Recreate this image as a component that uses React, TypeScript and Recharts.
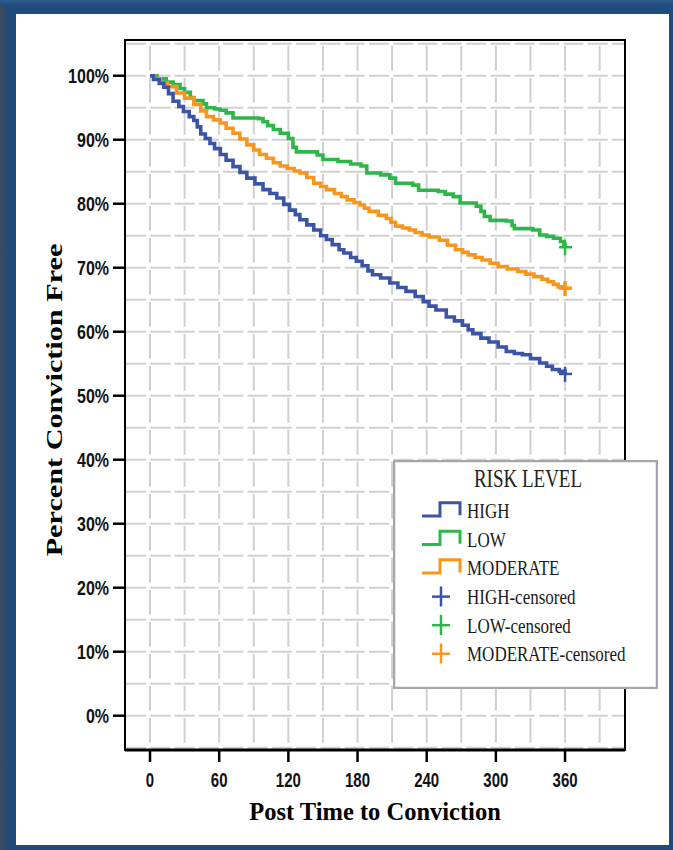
import React from 'react';
import {
  ComposedChart, Line, Scatter, XAxis, YAxis, CartesianGrid, ReferenceArea,
} from 'recharts';

// Kaplan-Meier style step data: [days, percent conviction free]
const highDays = [0, 3, 8, 12, 16, 20, 25, 29, 34, 38, 41, 44, 48, 52, 56, 61, 66, 72, 78, 84, 91, 98, 104, 110, 116, 121, 126, 130, 136, 142, 148, 153, 158, 164, 168, 174, 179, 184, 189, 193, 200, 208, 215, 222, 230, 237, 242, 248, 257, 264, 271, 276, 280, 287, 294, 302, 309, 316, 323, 330, 338, 344, 349, 355, 360];
const highPct = [100, 99.4, 98.8, 98.2, 97.2, 96, 95.2, 94.4, 93.6, 93, 92, 90.9, 90.2, 89.4, 88.6, 87.7, 86.8, 85.8, 84.9, 84, 83.1, 82.2, 81.6, 80.9, 79.9, 79, 78.3, 77.5, 76.7, 75.9, 75, 74.4, 73.6, 72.8, 72.3, 71.6, 71, 70.3, 69.5, 68.9, 68.4, 67.6, 66.9, 66.3, 65.5, 64.7, 64, 63.4, 62.3, 61.7, 61, 60.3, 59.7, 59, 58.4, 57.6, 56.9, 56.6, 56.4, 55.8, 55.1, 54.6, 54.1, 53.8, 53.4];

const lowDays = [0, 6, 14, 20, 26, 30, 35, 38, 46, 49, 56, 61, 66, 72, 94, 98, 102, 107, 113, 120, 124, 127, 145, 150, 163, 174, 183, 188, 200, 208, 213, 228, 233, 250, 256, 263, 269, 283, 287, 290, 295, 309, 314, 316, 332, 338, 344, 350, 356, 359, 360];
const lowPct = [100, 99.5, 99, 98.6, 98, 97.4, 96.6, 96.1, 95.6, 95, 94.8, 94.6, 94.2, 93.4, 93.3, 92.8, 92.2, 91.6, 91, 90.2, 88.8, 88.1, 87.6, 86.9, 86.6, 86.2, 85.9, 84.8, 84.5, 84, 83.2, 82.9, 82.1, 81.9, 81.5, 81.1, 80.1, 79.6, 78.8, 78, 77.4, 77.3, 76.6, 76.1, 75.9, 75.1, 74.9, 74.6, 74.1, 73.6, 73.2];

const modDays = [0, 4, 9, 15, 23, 30, 38, 44, 49, 55, 61, 66, 72, 78, 84, 90, 95, 101, 107, 113, 119, 125, 130, 136, 142, 148, 153, 160, 166, 171, 177, 182, 186, 190, 198, 205, 209, 213, 219, 225, 230, 236, 242, 251, 258, 265, 271, 276, 282, 288, 295, 302, 310, 319, 326, 333, 340, 345, 350, 354, 360];
const modPct = [100, 99.5, 98.9, 98.3, 97.3, 96.5, 95.5, 94.5, 93.6, 93.1, 92.6, 91.8, 91, 90.1, 89.2, 88.4, 87.7, 87.1, 86.4, 85.9, 85.5, 85.1, 84.8, 84.1, 83.2, 82.7, 82.2, 81.6, 81.1, 80.6, 80.2, 79.8, 79.3, 78.8, 78.2, 77.7, 77.1, 76.5, 76.2, 75.9, 75.5, 75.1, 74.8, 74.3, 73.5, 72.8, 72.4, 72, 71.6, 71.2, 70.7, 70.2, 69.8, 69.4, 69, 68.6, 68.2, 67.8, 67.4, 67, 66.8];

// censored marks at end of follow-up
const censorDay = 360;
const highCensored = [53.4];
const lowCensored = [73.2];
const modCensored = [66.8];

const xGridTicks = [0, 30, 60, 90, 120, 150, 180, 210, 240, 270, 300, 330, 360, 390];
const xLabelTicks = [0, 60, 120, 180, 240, 300, 360];
const yGridTicks = [-5, 0, 5, 10, 15, 20, 25, 30, 35, 40, 45, 50, 55, 60, 65, 70, 75, 80, 85, 90, 95, 100, 105];
const yLabelTicks = [0, 10, 20, 30, 40, 50, 60, 70, 80, 90, 100];

const legendItems = ['HIGH', 'LOW', 'MODERATE'];

const BLUE = '#3c54a6';
const GREEN = '#2fb64a';
const ORANGE = '#f7961f';
const GRID = '#d0d0d0';

const W = 673;
const H = 850;
const MARGIN = { top: 40, right: 48, bottom: 0, left: 0 };
const Y_AXIS_W = 125;
const X_AXIS_H = 100;
const X_DOMAIN: [number, number] = [-21.7, 412];
const Y_DOMAIN: [number, number] = [-5.36, 105.58];

const plotH = H - MARGIN.top - X_AXIS_H;
const pxPerPct = plotH / (Y_DOMAIN[1] - Y_DOMAIN[0]);

const toRows = (days: number[], pct: number[]) => days.map((t, i) => ({ t, pct: pct[i] }));
const highData = toRows(highDays, highPct);
const lowData = toRows(lowDays, lowPct);
const modData = toRows(modDays, modPct);

// vertical dashes start on each horizontal grid line and stop a little before the next
const vPeriod = 5 * pxPerPct;
const vStart = (Y_DOMAIN[1] - 105) * pxPerPct;
const vOffset = (vPeriod - (vStart % vPeriod)) % vPeriod;

const renderHLine = (p: any) => (
  <line key={`h-${p.index}`} x1={Math.min(p.x1, p.x2)} y1={p.y1} x2={Math.max(p.x1, p.x2)} y2={p.y2}
    stroke={GRID} strokeWidth={2} strokeDasharray="20 4.3" strokeDashoffset={-1} />
);
const renderVLine = (p: any) => (
  <line key={`v-${p.index}`} x1={p.x1} y1={Math.min(p.y1, p.y2)} x2={p.x2} y2={Math.max(p.y1, p.y2)}
    stroke={GRID} strokeWidth={2} strokeDasharray={`${vPeriod - 7} 7`} strokeDashoffset={vOffset - 2} />
);

const tickFont = { fontFamily: '"Liberation Sans", Arial, sans-serif', fontWeight: 700, fill: '#111' };

const YTick = (p: any) => {
  const v = p.payload.value;
  if (!yLabelTicks.includes(v)) return <g />;
  return (
    <g>
      <line x1={p.x - 12} x2={p.x} y1={p.y} y2={p.y} stroke="#000" strokeWidth={2.5} />
      <text transform={`translate(${p.x - 16},${p.y + 7}) scale(1,1.22)`} textAnchor="end" fontSize={16} {...tickFont}>
        {`${v}%`}
      </text>
    </g>
  );
};

const XTick = (p: any) => {
  const v = p.payload.value;
  if (!xLabelTicks.includes(v)) return <g />;
  return (
    <g>
      <line x1={p.x} x2={p.x} y1={p.y} y2={p.y + 12} stroke="#000" strokeWidth={2.5} />
      <text transform={`translate(${p.x},${p.y + 37}) scale(1,1.4)`} textAnchor="middle" fontSize={15} {...tickFont}>
        {v}
      </text>
    </g>
  );
};

const plusShape = (color: string, w: number) => (p: any) => (
  <g>
    <line x1={p.cx - 6} x2={p.cx + 7} y1={p.cy} y2={p.cy} stroke={color} strokeWidth={w} />
    <line x1={p.cx} x2={p.cx} y1={p.cy - 7} y2={p.cy + 8} stroke={color} strokeWidth={w} />
  </g>
);

const serif = '"Liberation Serif", "Times New Roman", serif';

const Legend = () => {
  const colors = [BLUE, GREEN, ORANGE];
  const rowY = (i: number) => 58.3 + i * 28.55;
  return (
    <svg width={265} height={229} style={{ position: 'absolute', left: 393, top: 460 }}>
      <rect x={1} y={1} width={263} height={227} fill="#fff" stroke="#a6a6a6" strokeWidth={2.5} />
      <text transform="translate(135,27) scale(1,1.3)" textAnchor="middle" fontFamily={serif} fontSize={19} fill="#222">
        RISK LEVEL
      </text>
      {legendItems.map((name, i) => {
        const b = rowY(i);
        return (
          <g key={name}>
            <path d={`M29,${b - 2.3} H47 V${b - 15.6} H67 V${b - 3}`} fill="none" stroke={colors[i]} strokeWidth={3} />
            <text transform={`translate(74,${b}) scale(1,1.2)`} fontFamily={serif} fontSize={17} fill="#1a1a1a">{name}</text>
          </g>
        );
      })}
      {legendItems.map((name, i) => {
        const b = rowY(i + 3);
        return (
          <g key={`${name}-c`}>
            <line x1={39} x2={57} y1={b - 7.3} y2={b - 7.3} stroke={colors[i]} strokeWidth={2.5} />
            <line x1={48} x2={48} y1={b - 17.5} y2={b + 2.5} stroke={colors[i]} strokeWidth={2.5} />
            <text transform={`translate(74,${b}) scale(1,1.2)`} fontFamily={serif} fontSize={17} fill="#1a1a1a">{`${name}-censored`}</text>
          </g>
        );
      })}
    </svg>
  );
};

export default function App() {
  return (
    <div style={{ position: 'absolute', left: 0, top: 0, width: W, height: H, background: '#1f4a7d', overflow: 'hidden' }}>
      <div style={{ position: 'absolute', left: 0, top: 0, width: 10, height: H, background: 'linear-gradient(to right, #3d4b5c, #1f4a7d)' }} />
      <div style={{ position: 'absolute', left: 0, top: 0, width: W, height: 6, background: 'linear-gradient(to bottom, #2f5a8c, #1f4a7d)' }} />
      <div style={{ position: 'absolute', left: 16, top: 14, width: 653, height: 831, background: '#fff' }} />
      <div style={{ position: 'absolute', left: 0, top: 0 }}>
        <ComposedChart width={W} height={H} margin={MARGIN}>
          <CartesianGrid horizontal={renderHLine} vertical={renderVLine} />
          <XAxis type="number" dataKey="t" domain={X_DOMAIN} ticks={xGridTicks} allowDataOverflow
            height={X_AXIS_H} tickSize={0} tickMargin={0} tick={<XTick />} interval={0}
            axisLine={{ stroke: '#000', strokeWidth: 3 }}
            label={{
              content: (p: any) => (
                <text x={p.viewBox.x + p.viewBox.width / 2} y={820} textAnchor="middle"
                  fontFamily={serif} fontWeight={700} fontSize={24.5} fill="#000">
                  Post Time to Conviction
                </text>
              ),
            }} />
          <YAxis type="number" domain={Y_DOMAIN} ticks={yGridTicks} allowDataOverflow
            width={Y_AXIS_W} tickSize={0} tickMargin={0} tick={<YTick />} interval={0}
            axisLine={{ stroke: '#000', strokeWidth: 2 }}
            label={{
              content: (p: any) => (
                <text transform={`translate(62,${p.viewBox.y + p.viewBox.height / 2 + 5}) rotate(-90) scale(1.26,1)`}
                  textAnchor="middle" fontFamily={serif} fontWeight={700} fontSize={24} fill="#000">
                  Percent Conviction Free
                </text>
              ),
            }} />
          <ReferenceArea x1={X_DOMAIN[0]} x2={X_DOMAIN[1]} y1={Y_DOMAIN[0]} y2={Y_DOMAIN[1]}
            fill="none" stroke="#000" strokeWidth={2} ifOverflow="visible" />
          <Line data={lowData} dataKey="pct" type="stepAfter" stroke={GREEN} strokeWidth={3.6} dot={false} isAnimationActive={false} />
          <Line data={modData} dataKey="pct" type="stepAfter" stroke={ORANGE} strokeWidth={3.6} dot={false} isAnimationActive={false} />
          <Line data={highData} dataKey="pct" type="stepAfter" stroke={BLUE} strokeWidth={3.6} dot={false} isAnimationActive={false} />
          <Scatter data={lowCensored.map((pct) => ({ t: censorDay, pct }))} dataKey="pct" shape={plusShape(GREEN, 2.5)} isAnimationActive={false} />
          <Scatter data={modCensored.map((pct) => ({ t: censorDay, pct }))} dataKey="pct" shape={plusShape(ORANGE, 3.5)} isAnimationActive={false} />
          <Scatter data={highCensored.map((pct) => ({ t: censorDay, pct }))} dataKey="pct" shape={plusShape(BLUE, 2.5)} isAnimationActive={false} />
        </ComposedChart>
      </div>
      <Legend />
    </div>
  );
}
